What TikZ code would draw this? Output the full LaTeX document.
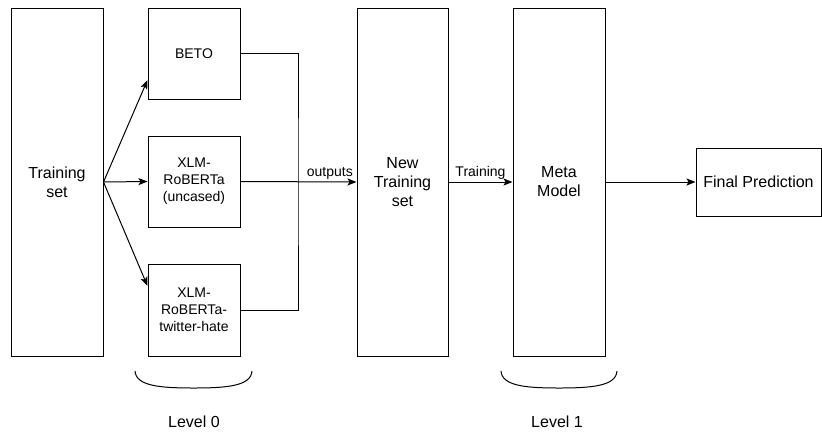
\documentclass[tikz,border=0pt]{standalone}
\usepackage{fontspec}
\setmainfont{Liberation Sans}
\usetikzlibrary{arrows.meta}

\begin{document}
\begin{tikzpicture}[x=1pt, y=-1pt, line width=1pt, >={Stealth[length=9pt, width=7pt, inset=2pt]},
        tallbox/.style={draw, minimum width=92pt, minimum height=348pt, inner sep=0pt, align=center, font=\fontsize{16}{19}\selectfont},
        modelbox/.style={draw, minimum width=92pt, minimum height=91pt, inner sep=0pt, align=center, font=\fontsize{14}{17}\selectfont},
        edgelabel/.style={inner sep=2pt, font=\fontsize{14}{16}\selectfont},
        levellabel/.style={font=\fontsize{16}{19}\selectfont}]
        \useasboundingbox (0,0) rectangle (822,432);

        \node [tallbox] (train) at (57,182) {Training\\set};

        \node [modelbox] (beto) at (194,53.5) {BETO};
        \node [modelbox] (xlmr) at (194,181.5) {XLM-\\RoBERTa\\(uncased)};
        \node [modelbox, minimum height=92pt] (xlmt) at (194,310) {XLM-\\RoBERTa-\\twitter-hate};

        \node [tallbox, minimum width=91pt] (newtrain) at (402.5,182) {New\\Training\\set};
        \node [tallbox] (meta) at (559,182) {Meta\\Model};
        \node [tallbox, minimum width=125pt, minimum height=68pt] (final) at (758.5,182) {Final Prediction};

        \draw [->] (train.east) -- ([yshift=-26.5pt]beto.west);
        \draw [->] (train.east) -- (xlmr.west);
        \draw [->] (train.east) -- ([yshift=24pt]xlmt.west);

        \coordinate (merge) at (298,182);
        \draw (beto.east) -| (merge) |- (xlmt.east);
        \draw [->] (xlmr.east) -- (newtrain.west) node [edgelabel, pos=0.77, above] {outputs};
        \draw [->] (newtrain.east) -- (meta.west) node [edgelabel, midway, above] {Training};
        \draw [->] (meta.east) -- (final.west);

        \draw (135,371) .. controls (136,386) and (160,388) .. (193.5,388) .. controls (227,388) and (251,386) .. (252,371);
        \draw (501,371) .. controls (502,386) and (526,388) .. (559,388) .. controls (592,388) and (616,386) .. (617,371);

        \node [levellabel] (lvlzero) at (194,422) {Level 0};
        \node [levellabel] (lvlone) at (557,422) {Level 1};
    \end{tikzpicture}
\end{document}
